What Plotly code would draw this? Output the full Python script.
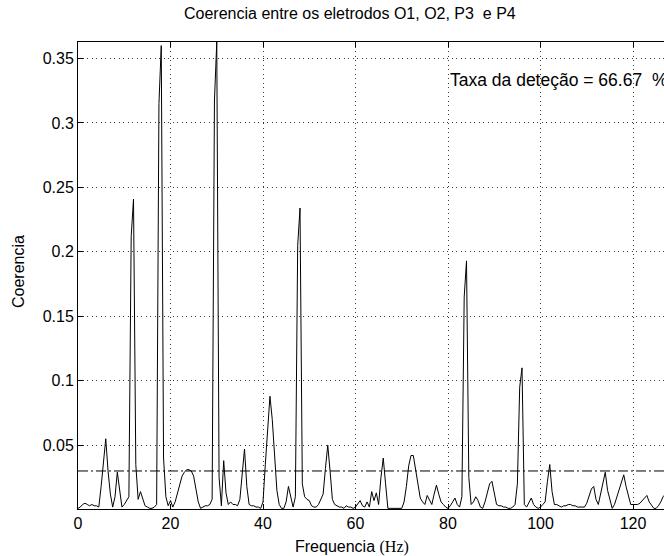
import numpy as np
import plotly.graph_objects as go

# Coherence spectrum, 0.5 Hz bins from 0 to 128 Hz
freq_step = 0.5
coherence = [
    # 0 - 4.5 Hz
    0.001, 0.002, 0.004, 0.005, 0.004, 0.003, 0.004, 0.003, 0.003, 0.002,
    # 5 - 9.5 Hz
    0.018, 0.038, 0.055, 0.030, 0.012, 0.002, 0.010, 0.029, 0.014, 0.002,
    # 10 - 14.5 Hz
    0.004, 0.007, 0.010, 0.212, 0.241, 0.035, 0.008, 0.014, 0.008, 0.003,
    # 15 - 19.5 Hz
    0.002, 0.001, 0.001, 0.002, 0.004, 0.315, 0.360, 0.040, 0.010, 0.003,
    # 20 - 24.5 Hz
    0.007, 0.002, 0.006, 0.013, 0.021, 0.026, 0.029, 0.031, 0.031, 0.030,
    # 25 - 29.5 Hz
    0.026, 0.017, 0.006, 0.001, 0.002, 0.003, 0.003, 0.004, 0.008, 0.317,
    # 30 - 34.5 Hz
    0.3628, 0.025, 0.003, 0.038, 0.013, 0.004, 0.006, 0.004, 0.004, 0.003,
    # 35 - 39.5 Hz
    0.008, 0.030, 0.047, 0.018, 0.004, 0.003, 0.003, 0.002, 0.002, 0.001,
    # 40 - 44.5 Hz
    0.006, 0.035, 0.062, 0.088, 0.070, 0.040, 0.015, 0.004, 0.001, 0.001,
    # 45 - 49.5 Hz
    0.006, 0.018, 0.010, 0.002, 0.010, 0.205, 0.234, 0.020, 0.010, 0.008,
    # 50 - 54.5 Hz
    0.007, 0.003, 0.002, 0.002, 0.004, 0.008, 0.012, 0.032, 0.050, 0.030,
    # 55 - 59.5 Hz
    0.008, 0.004, 0.003, 0.002, 0.002, 0.001, 0.003, 0.002, 0.002, 0.001,
    # 60 - 64.5 Hz
    0.002, 0.005, 0.007, 0.003, 0.002, 0.006, 0.002, 0.014, 0.007, 0.013,
    # 65 - 69.5 Hz
    0.004, 0.025, 0.040, 0.020, 0.001, 0.001, 0.001, 0.001, 0.001, 0.001,
    # 70 - 74.5 Hz
    0.001, 0.006, 0.018, 0.034, 0.042, 0.042, 0.030, 0.018, 0.009, 0.006,
    # 75 - 79.5 Hz
    0.004, 0.011, 0.007, 0.004, 0.012, 0.019, 0.012, 0.006, 0.004, 0.002,
    # 80 - 84.5 Hz
    0.001, 0.003, 0.006, 0.009, 0.004, 0.002, 0.010, 0.165, 0.193, 0.025,
    # 85 - 89.5 Hz
    0.004, 0.006, 0.010, 0.007, 0.002, 0.001, 0.006, 0.012, 0.020, 0.022,
    # 90 - 94.5 Hz
    0.012, 0.004, 0.003, 0.003, 0.002, 0.002, 0.001, 0.001, 0.002, 0.004,
    # 95 - 99.5 Hz
    0.020, 0.095, 0.110, 0.004, 0.002, 0.006, 0.009, 0.004, 0.002, 0.001,
    # 100 - 104.5 Hz
    0.002, 0.004, 0.006, 0.022, 0.035, 0.014, 0.004, 0.004, 0.003, 0.002,
    # 105 - 109.5 Hz
    0.003, 0.003, 0.004, 0.004, 0.003, 0.003, 0.002, 0.002, 0.002, 0.002,
    # 110 - 114.5 Hz
    0.005, 0.010, 0.016, 0.018, 0.008, 0.004, 0.012, 0.020, 0.029, 0.015,
    # 115 - 119.5 Hz
    0.007, 0.001, 0.004, 0.010, 0.016, 0.022, 0.027, 0.018, 0.010, 0.004,
    # 120 - 124.5 Hz
    0.004, 0.004, 0.004, 0.005, 0.007, 0.009, 0.011, 0.006, 0.003, 0.001,
    # 125 - 128 Hz
    0.001, 0.003, 0.006, 0.010, 0.012, 0.010, 0.006,
]
frequency = np.arange(len(coherence)) * freq_step

detection_threshold = 0.03
detection_rate = 66.67

x_ticks = [0, 20, 40, 60, 80, 100, 120]
y_ticks = [0.05, 0.1, 0.15, 0.2, 0.25, 0.3, 0.35]
y_ticktext = ["0.05", "0.1", "0.15", "0.2", "0.25", "0.3", "0.35"]

FONT = "Liberation Sans, Arial, sans-serif"
GRID = "#3a3a3a"

# plot-area geometry in pixels, used to place the free-standing labels
L, T, B, W, H = 78, 42, 47, 664, 556
PW, PH = W - L, H - T - B


def paper_xy(px, py):
    return (px - L) / PW, (H - B - py) / PH


fig = go.Figure()

fig.add_trace(go.Scatter(
    x=frequency, y=coherence, mode="lines",
    line=dict(color="black", width=1),
    hoverinfo="x+y", showlegend=False,
))

# detection threshold
fig.add_trace(go.Scatter(
    x=[frequency[0], frequency[-1]],
    y=[detection_threshold, detection_threshold],
    mode="lines",
    line=dict(color="black", width=1, dash="10px,3px,2px,3px"),
    hoverinfo="skip", showlegend=False,
))

axis_common = dict(
    showline=True, linecolor="black", linewidth=1,
    ticks="inside", ticklen=5, tickcolor="black",
    showgrid=True, gridcolor=GRID, gridwidth=1, griddash="1px,3.5px",
    zeroline=False,
    tickfont=dict(family=FONT, size=16, color="black"),
)

fig.update_xaxes(
    range=[0, 126.7], tickvals=x_ticks, mirror="ticks", **axis_common,
)
fig.update_yaxes(
    range=[0.0005, 0.3628], tickvals=y_ticks, ticktext=y_ticktext,
    mirror=False, **axis_common,
)

fig.add_annotation(
    x=80, y=0.333, xref="x", yref="y",
    text=f"Taxa da deteção = {detection_rate:.2f}\u00a0 %",
    showarrow=False, xanchor="left", yanchor="middle",
    font=dict(family=FONT, size=17.5, color="black"),
)

# title and axis labels
tx, ty = paper_xy(350, 14)
fig.add_annotation(
    x=tx, y=ty, xref="paper", yref="paper",
    text="Coerencia entre os eletrodos O1, O2, P3  e P4",
    showarrow=False, xanchor="center", yanchor="middle",
    font=dict(family=FONT, size=16, color="black"),
)
lx, ly = paper_xy(352, 547)
fig.add_annotation(
    x=lx, y=ly, xref="paper", yref="paper",
    text="Frequencia <span style='font-family:Liberation Serif'>(Hz)</span>",
    showarrow=False, xanchor="center", yanchor="middle",
    font=dict(family=FONT, size=16, color="black"),
)
vx, vy = paper_xy(18, 272)
fig.add_annotation(
    x=vx, y=vy, xref="paper", yref="paper",
    text="Coerencia", textangle=-90,
    showarrow=False, xanchor="center", yanchor="middle",
    font=dict(family=FONT, size=16, color="black"),
)

fig.update_layout(
    width=W, height=H,
    margin=dict(l=L, r=0, t=T, b=B),
    paper_bgcolor="white", plot_bgcolor="white",
    showlegend=False,
)

fig.write_html("out.html")
